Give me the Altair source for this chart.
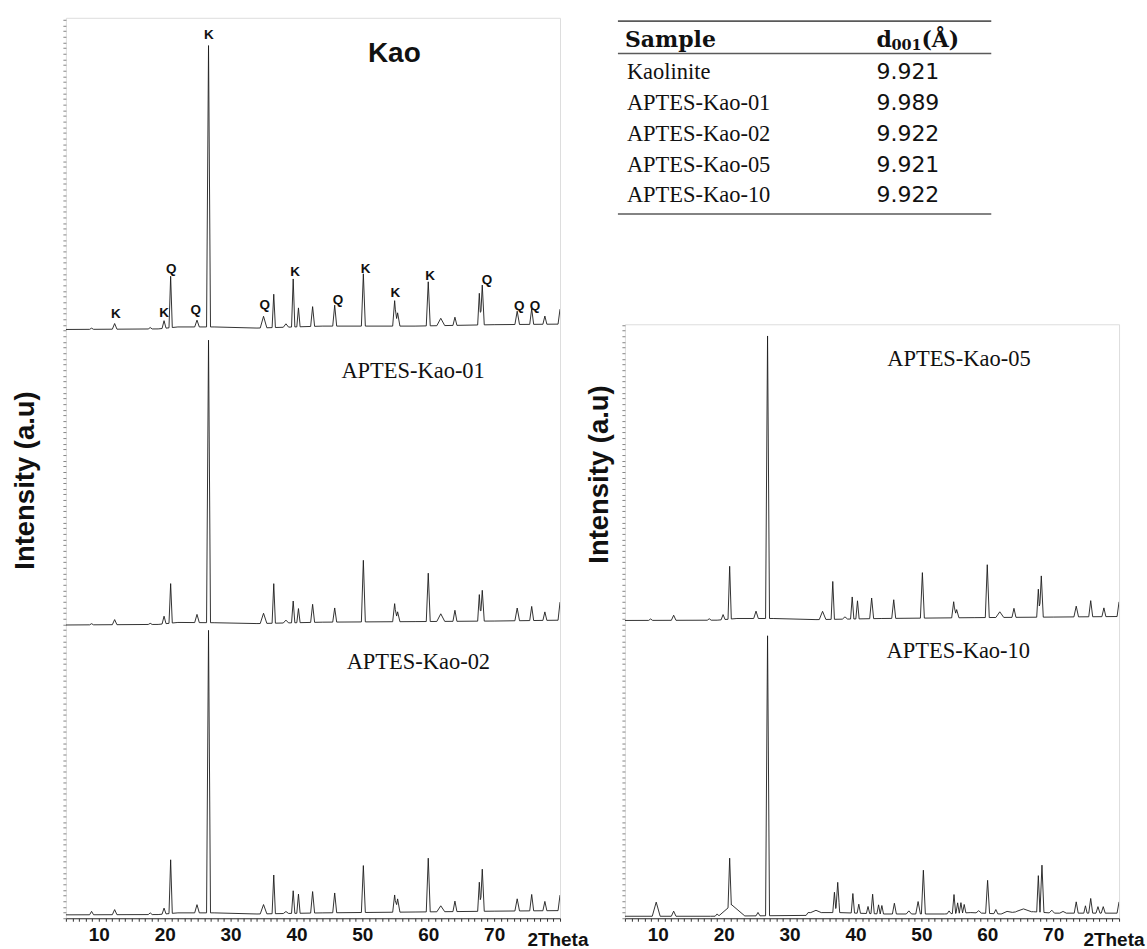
import altair as alt
import numpy as np
import pandas as pd

# ------------------------------------------------------------------
# Values
# ------------------------------------------------------------------
two_theta_min, two_theta_max = 5, 80

# Peak positions (2Theta, deg) shared by Kao, APTES-Kao-01/02/05
peak_pos = [8.9, 12.4, 17.8, 19.9, 20.9, 24.9, 26.65, 35.0, 36.55, 38.4, 39.5, 40.3,
            42.45, 45.8, 50.15, 54.9, 55.35, 60.0, 61.9, 64.05, 67.75, 68.2, 73.5,
            75.7, 77.7, 80.0]
# half width at base of each peak (deg)
peak_hw = [0.3, 0.35, 0.3, 0.3, 0.25, 0.35, 0.3, 0.5, 0.25, 0.4, 0.25, 0.25,
           0.3, 0.3, 0.3, 0.3, 0.35, 0.3, 0.6, 0.3, 0.25, 0.3, 0.35,
           0.3, 0.3, 0.3]
# peak heights (% of the strongest reflection)
h_kao = [0.4, 2.0, 0.5, 2.7, 18.2, 2.4, 99.6, 4.1, 11.8, 1.2, 17.0, 6.7,
         7.0, 7.4, 18.5, 9.0, 4.7, 15.6, 2.6, 2.9, 11.2, 14.1, 4.7,
         5.5, 2.9, 5.3]
h_kao01 = [0.4, 1.8, 0.4, 2.7, 14.0, 2.9, 100.0, 3.6, 14.0, 1.0, 7.7, 5.0,
           6.4, 5.0, 21.8, 6.4, 3.5, 17.1, 2.7, 3.9, 9.4, 10.9, 4.5,
           5.0, 3.0, 6.4]
h_kao02 = [1.2, 1.8, 0.6, 2.1, 19.0, 2.9, 100.0, 3.3, 13.7, 0.7, 8.0, 6.8,
           7.6, 7.0, 16.6, 6.1, 4.7, 19.0, 2.1, 3.7, 10.3, 14.9, 4.3,
           5.8, 3.3, 5.5]
h_kao05 = [0.5, 1.8, 0.5, 1.8, 18.7, 2.6, 100.0, 2.9, 13.4, 0.8, 7.8, 6.4,
           7.3, 6.6, 16.1, 5.7, 2.9, 18.7, 2.0, 3.2, 9.9, 14.6, 3.8,
           5.7, 3.1, 5.2]
# background levels
base_x = [5, 19, 22, 27.5, 34, 44, 58, 70, 80]
base_kao = [0.3, 0.5, 1.2, 1.2, 0.8, 1.5, 1.5, 2.0, 2.2]
base_kao01 = [0.3, 0.5, 1.2, 1.1, 0.8, 1.3, 1.5, 1.7, 2.0]
base_kao02 = [0.3, 0.4, 1.0, 1.0, 0.6, 1.0, 1.3, 1.6, 1.8]
base_kao05 = [0.3, 0.4, 1.0, 1.0, 0.6, 1.0, 1.3, 1.5, 1.7]

# APTES-Kao-10 has its own reflections
k10_pos = [9.75, 12.4, 19.0, 21.2, 20.9, 25.2, 26.65, 34.0, 36.8, 37.3, 39.6, 40.5,
           41.9, 42.6, 43.5, 44.0, 45.9, 48.1, 49.5, 50.3, 54.2, 54.95, 55.5, 56.0,
           56.5, 58.7, 60.05, 61.3, 63.0, 65.5, 67.75, 68.3, 69.8, 71.5, 73.5, 74.9,
           75.7, 76.8, 77.6, 80.0]
k10_h = [5.0, 1.8, 0.8, 4.0, 17.1, 1.2, 99.1, 0.8, 7.2, 10.7, 6.9, 3.2,
         2.5, 6.9, 3.2, 3.0, 3.8, 1.1, 4.4, 15.5, 1.0, 6.7, 3.7, 3.7,
         3.0, 0.8, 11.7, 1.5, 0.6, 1.0, 12.9, 16.7, 1.0, 0.6, 4.0, 2.6,
         5.2, 2.3, 2.3, 4.0]
k10_hw = [0.6, 0.35, 0.3, 2.0, 0.25, 0.3, 0.3, 0.8, 0.25, 0.3, 0.25, 0.25,
          0.25, 0.25, 0.25, 0.25, 0.3, 0.4, 0.35, 0.3, 0.3, 0.25, 0.25, 0.25,
          0.25, 0.4, 0.3, 0.3, 0.8, 1.2, 0.25, 0.3, 0.4, 0.5, 0.3, 0.25,
          0.3, 0.3, 0.3, 0.3]
k10_base_x = [5, 18, 32.5, 32.8, 37.5, 44, 53.5, 57.5, 62, 64.5, 67, 70, 80]
k10_base_y = [0.2, 0.2, 0.5, 1.5, 1.5, 1.0, 1.0, 1.5, 1.0, 1.8, 1.8, 1.3, 1.3]

# Phase labels on the Kao pattern (K = kaolinite, Q = quartz)
phase_text = ["K", "K", "Q", "Q", "K", "Q", "K", "Q", "K", "K", "K", "Q", "Q", "Q"]
phase_x = [12.6, 19.9, 21.0, 24.7, 26.7, 35.2, 39.8, 46.3, 50.5, 55.0, 60.3, 68.9, 73.8, 76.2]
phase_y = [5.7, 6.0, 21.6, 7.1, 104.6, 8.8, 20.5, 10.6, 21.6, 13.1, 19.4, 17.7, 8.5, 8.5]

# Table of basal spacings
samples = ["Kaolinite", "APTES-Kao-01", "APTES-Kao-02", "APTES-Kao-05", "APTES-Kao-10"]
d001 = [9.921, 9.989, 9.922, 9.921, 9.922]

# ------------------------------------------------------------------
# Layout constants (pixels / axis units)
# ------------------------------------------------------------------
PLOT_W = 495
LEFT_H, RIGHT_H = 902, 595
PX_PER_UNIT = 2.83
LEFT_D = LEFT_H / PX_PER_UNIT
RIGHT_D = RIGHT_H / PX_PER_UNIT
LINE_COLOR = "#1c1c1c"


def pattern(name, pos, h, hw, bx, by, offset):
    xs = {float(two_theta_min), float(two_theta_max)} | {float(v) for v in bx}
    for p, w in zip(pos, hw):
        xs.update([p - w, p, p + w])
    xs = sorted(x for x in xs if two_theta_min <= x <= two_theta_max)
    rows = []
    for i, x in enumerate(xs):
        yb = float(np.interp(x, bx, by))
        yp = sum(hh * max(0.0, 1 - abs(x - p) / w) for p, hh, w in zip(pos, h, hw))
        rows.append({"x": x, "y": offset + yb + yp, "series": name, "i": i})
    return rows


left_df = pd.DataFrame(
    pattern("Kao", peak_pos, h_kao, peak_hw, base_x, base_kao, 208.1)
    + pattern("APTES-Kao-01", peak_pos, h_kao01, peak_hw, base_x, base_kao01, 103.5)
    + pattern("APTES-Kao-02", peak_pos, h_kao02, peak_hw, base_x, base_kao02, 0.9)
)
right_df = pd.DataFrame(
    pattern("APTES-Kao-05", peak_pos, h_kao05, peak_hw, base_x, base_kao05, 105.1)
    + pattern("APTES-Kao-10", k10_pos, k10_h, k10_hw, k10_base_x, k10_base_y, 0.5)
)
phase_df = pd.DataFrame({"x": phase_x, "y": [v + 208.1 for v in phase_y], "t": phase_text})


def x_enc(title_x):
    return alt.X(
        "x:Q",
        scale=alt.Scale(domain=[two_theta_min, two_theta_max], nice=False, zero=False),
        axis=alt.Axis(
            values=list(range(two_theta_min, two_theta_max + 1)),
            labelExpr="datum.value % 10 == 0 && datum.value < 80 ? datum.label : ''",
            tickSize=3, tickColor="#333", tickWidth=1,
            domainColor="#333", domainWidth=1.2, grid=False,
            labelFont="Liberation Sans", labelFontWeight="bold", labelFontSize=19,
            labelColor="#111", labelPadding=4, labelOverlap=False, labelFlush=False,
            title="2Theta", titleFont="Liberation Sans", titleFontWeight="bold",
            titleFontSize=19, titleColor="#111", titleX=title_x, titleY=27,
            titleAlign="right", titleBaseline="alphabetic", titleAnchor="end",
        ),
    )


def y_enc(dom, title_x, title_y):
    return alt.Y(
        "y:Q",
        scale=alt.Scale(domain=[0, dom], nice=False, zero=False),
        axis=alt.Axis(
            values=[float(v) for v in np.arange(0, dom, 2.0)],
            labels=False, domain=False, grid=False,
            tickSize=3, tickColor="#666", tickWidth=0.8,
            title="Intensity (a.u)", titleFont="Liberation Sans", titleFontWeight="bold",
            titleFontSize=27.5, titleColor="#111", titleX=title_x, titleY=title_y,
            titleAngle=270, titleAlign="center", titleBaseline="middle",
        ),
    )


def note(text, x, y, font, size, weight="normal"):
    return alt.Chart(pd.DataFrame({"x": [x], "y": [y], "t": [text]})).mark_text(
        font=font, fontSize=size, fontWeight=weight, color="#111",
        align="center", baseline="alphabetic",
    )


# ---------------- left panel ----------------
XL = x_enc(523)
YL = y_enc(LEFT_D, -40, 463)
left_lines = alt.Chart(left_df).mark_line(color=LINE_COLOR, strokeWidth=0.9, clip=True).encode(
    x=XL, y=YL, detail="series:N", order="i:Q")
left_phase = alt.Chart(phase_df).mark_text(
    font="Liberation Sans", fontWeight="bold", fontSize=13.5, color="#111", baseline="middle"
).encode(x=XL, y=YL, text="t:N")
kao_lbl = note("Kao", 54.85, 303.2, "Liberation Sans", 28, "bold").encode(x=XL, y=YL, text="t:N")
k01_lbl = note("APTES-Kao-01", 57.7, 191.3, "Liberation Serif", 22.5).encode(x=XL, y=YL, text="t:N")
k02_lbl = note("APTES-Kao-02", 58.5, 88.3, "Liberation Serif", 22.5).encode(x=XL, y=YL, text="t:N")
left = alt.layer(left_lines, left_phase, kao_lbl, k01_lbl, k02_lbl).properties(
    width=PLOT_W, height=LEFT_H)

# ---------------- right panel ----------------
XR = x_enc(520)
YR = y_enc(RIGHT_D, -25, 150)
right_lines = alt.Chart(right_df).mark_line(color=LINE_COLOR, strokeWidth=0.9, clip=True).encode(
    x=XR, y=YR, detail="series:N", order="i:Q")
k05_lbl = note("APTES-Kao-05", 55.7, 195.4, "Liberation Serif", 22.5).encode(x=XR, y=YR, text="t:N")
k10_lbl = note("APTES-Kao-10", 55.6, 92.2, "Liberation Serif", 22.5).encode(x=XR, y=YR, text="t:N")
right = alt.layer(right_lines, k05_lbl, k10_lbl).properties(width=PLOT_W, height=RIGHT_H)

# ---------------- table ----------------
table_df = pd.DataFrame({"sample": samples, "d001": d001, "row": list(range(len(samples)))})
row_y = alt.Y("row:Q", scale=alt.Scale(domain=[0, 4], range=[61, 185]), axis=None)
one = pd.DataFrame({"k": [0]})
rule_style = dict(color="#5a5a5a", strokeWidth=1.6)
t_rules = [
    alt.Chart(one).mark_rule(**rule_style).encode(x=alt.value(-7), x2=alt.value(367), y=alt.value(yv))
    for yv in (3.3, 35.7, 196.5)
]
head_style = dict(font="DejaVu Serif", fontWeight="bold", color="#111",
                  align="left", baseline="alphabetic")
t_head1 = alt.Chart(one).mark_text(text="Sample", fontSize=22, **head_style).encode(
    x=alt.value(0), y=alt.value(29))
t_head_d = alt.Chart(one).mark_text(text="d", fontSize=22, **head_style).encode(
    x=alt.value(252), y=alt.value(29))
t_head_sub = alt.Chart(one).mark_text(text="001", fontSize=14.5, **head_style).encode(
    x=alt.value(267), y=alt.value(32))
t_head_a = alt.Chart(one).mark_text(text="(\u00c5)", fontSize=22, **head_style).encode(
    x=alt.value(297), y=alt.value(29))
t_names = alt.Chart(table_df).mark_text(
    font="Liberation Serif", fontSize=22.5, color="#111", align="left", baseline="alphabetic"
).encode(x=alt.value(2), y=row_y, text="sample:N")
t_vals = alt.Chart(table_df).mark_text(
    font="DejaVu Sans", fontSize=22, color="#111", align="left", baseline="alphabetic"
).encode(x=alt.value(252), y=row_y, text=alt.Text("d001:Q", format=".3f"))
table = alt.layer(*t_rules, t_head1, t_head_d, t_head_sub, t_head_a, t_names, t_vals).properties(
    width=370, height=200, view=alt.ViewBackground(strokeOpacity=0))

right_col = alt.vconcat(table, right, spacing=107, bounds="flush")
chart = alt.hconcat(left, right_col, spacing=65, bounds="flush").properties(
    padding={"left": 11, "top": 16, "right": 2, "bottom": 2}
).configure_view(stroke="#7a7a7a", strokeWidth=1.2).configure(background="white")

chart.save("out.html", embed_options={"renderer": "svg", "actions": False})
